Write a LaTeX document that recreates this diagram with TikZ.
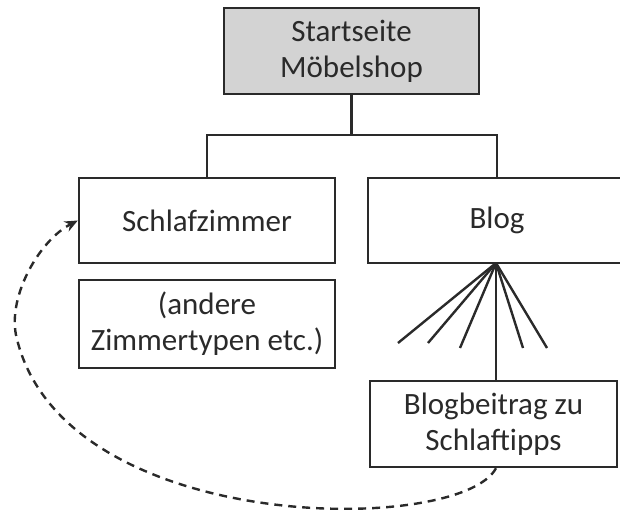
\documentclass[tikz,border=0pt]{standalone}
\usepackage{fontspec}
\setmainfont{Carlito}
\usetikzlibrary{arrows.meta}
\definecolor{ink}{HTML}{2A2A2A}
\definecolor{boxgray}{HTML}{D3D3D3}
\begin{document}
\begin{tikzpicture}[x=1pt,y=-1pt,
  box/.style={draw=ink, line width=2.4pt, rectangle, inner sep=0pt, text=ink,
    align=center, font=\fontsize{31}{36}\selectfont},
  link/.style={draw=ink, line width=2.4pt},
  jump/.style={draw=ink, line width=2.4pt, dash pattern=on 8pt off 6pt,
    -{Stealth[length=13pt,width=11pt]}}]
\useasboundingbox (0,0) rectangle (620,510);
\node[box, fill=boxgray, minimum width=255pt, minimum height=86pt] (start) at (351.5,51) {Startseite\\Möbelshop};
\node[box, minimum width=256pt, minimum height=85pt] (schlaf) at (207,220.5) {Schlafzimmer};
\node[box, minimum width=256pt, minimum height=88pt] (andere) at (207,324) {(andere\\Zimmertypen etc.)};
\node[box, minimum width=258pt, minimum height=85pt] (blog) at (497,220.5) {Blog};
\node[box, minimum width=247pt, minimum height=86pt] (beitrag) at (493.5,424) {Blogbeitrag zu\\Schlaftipps};
\coordinate (bar) at (351.5,135);
\coordinate (apex) at (496,263);
\coordinate (f1) at (398,343);
\coordinate (f2) at (428,343);
\coordinate (f3) at (460,348);
\coordinate (f4) at (523,348);
\coordinate (f5) at (547,348);
\draw[link] (start.south) -- (bar);
\draw[link] (schlaf.north) |- (bar) -| (blog.north);
\draw[link] (apex) -- (f1);
\draw[link] (apex) -- (f2);
\draw[link] (apex) -- (f3);
\draw[link] (apex) -- (f4);
\draw[link] (apex) -- (f5);
\draw[link] (apex) -- (apex |- beitrag.north);
\coordinate (turn) at (16,335);
\draw[jump] (apex |- beitrag.south) .. controls (460,536) and (60,536) .. (turn)
  .. controls (8,295) and (40,240) .. (schlaf.west);
\end{tikzpicture}
\end{document}
